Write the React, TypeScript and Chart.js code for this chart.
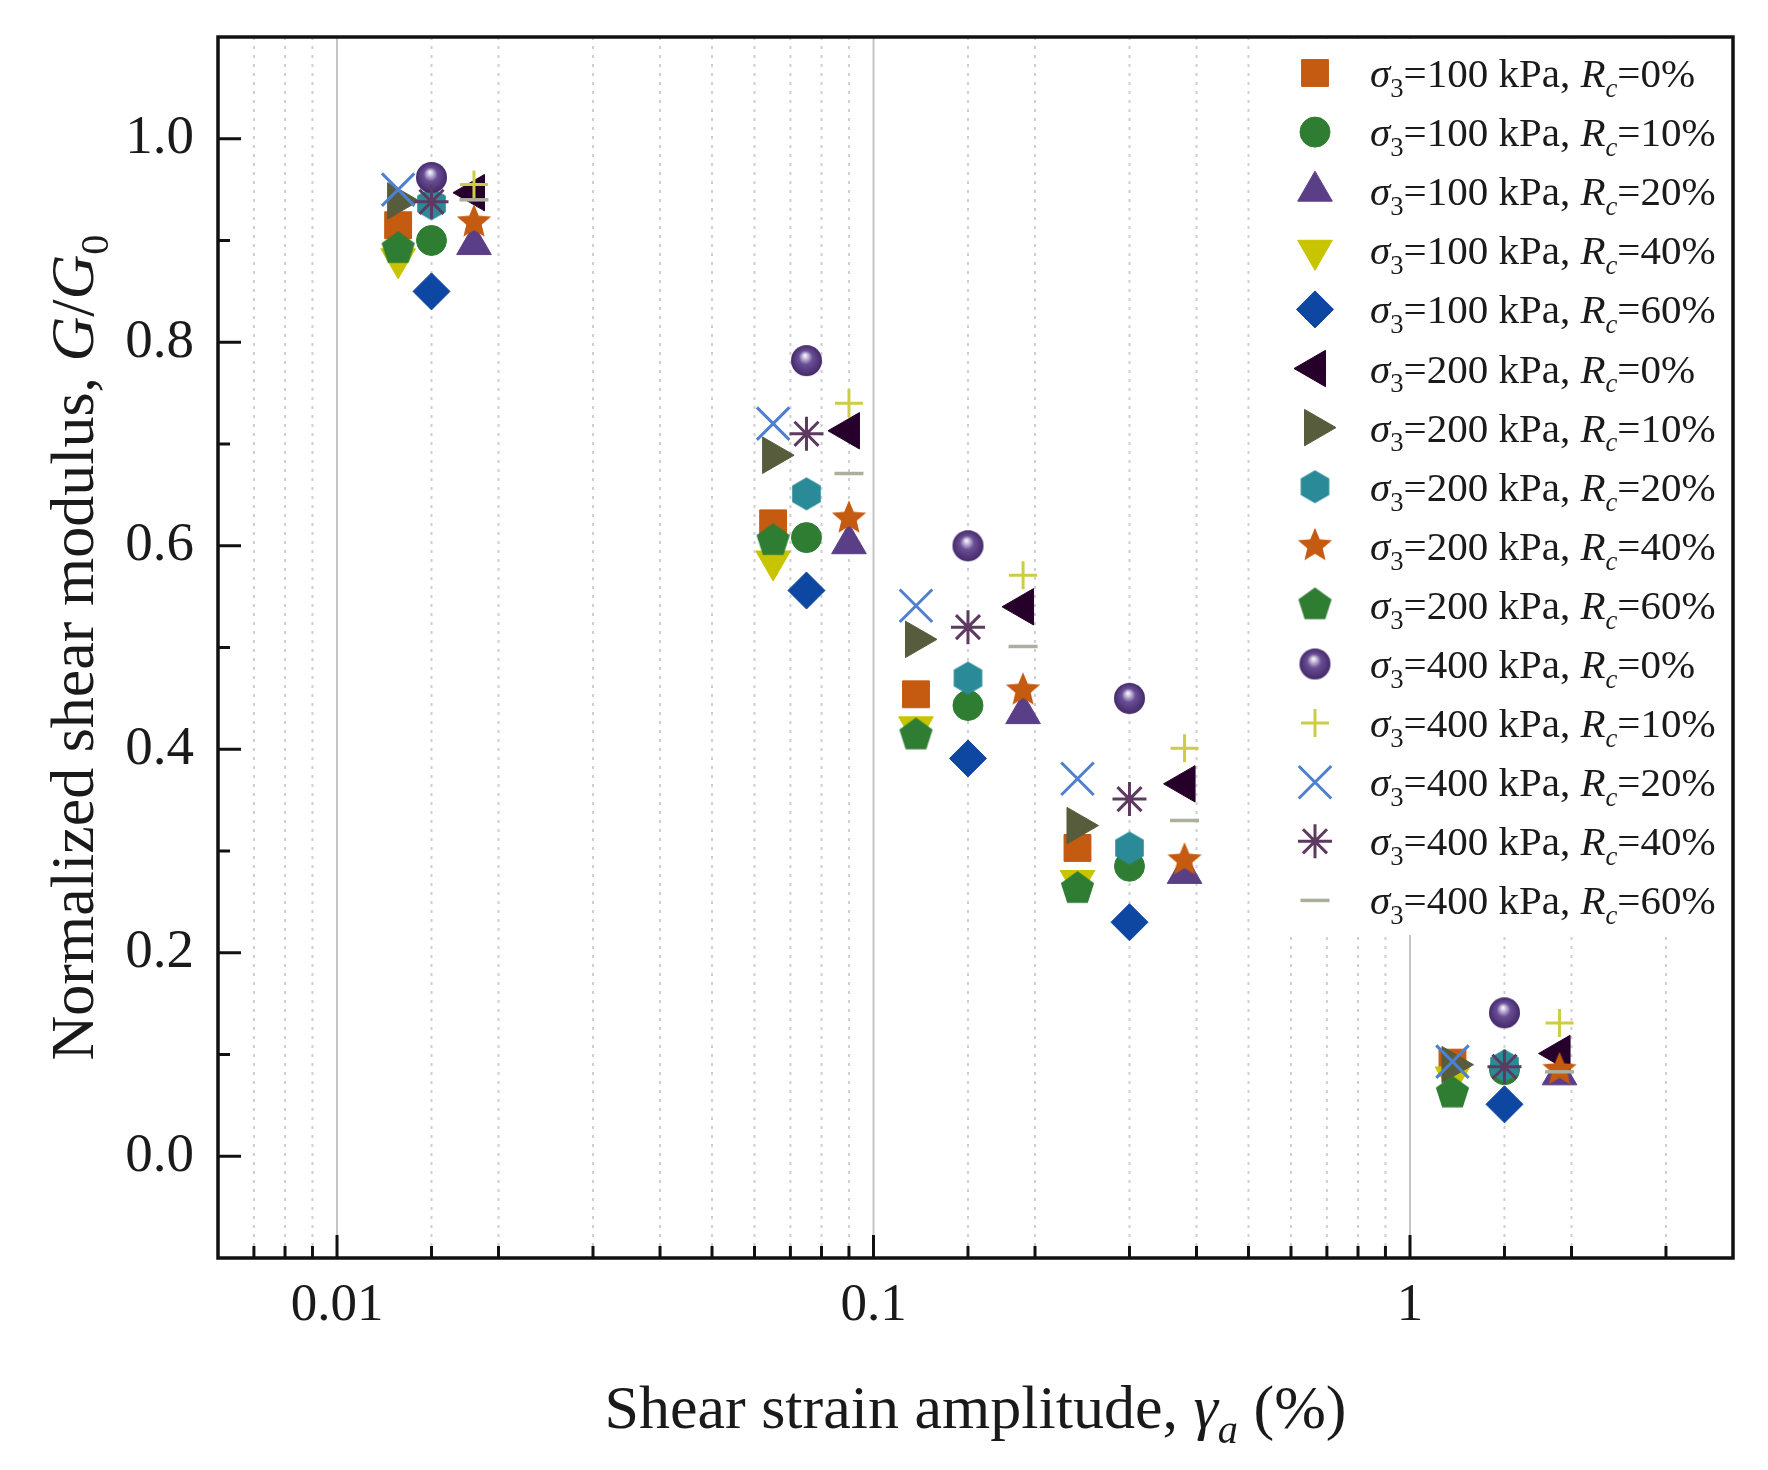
import React, { useEffect, useRef } from "react";
import { Chart, registerables } from "chart.js";
import { drawPoint } from "chart.js/helpers";

Chart.register(...registerables);

// shear strain amplitude (%) of the three marker columns in each cluster
const strainLow = [0.013, 0.065, 0.12, 0.24, 1.2];
const strainMid = [0.015, 0.075, 0.15, 0.3, 1.5];
const strainHigh = [0.018, 0.09, 0.19, 0.38, 1.9];

// normalized shear modulus G/G0
const g100rc0 = [0.915, 0.622, 0.454, 0.303, 0.092];
const g100rc10 = [0.9, 0.608, 0.443, 0.285, 0.085];
const g100rc20 = [0.896, 0.602, 0.435, 0.278, 0.08];
const g100rc40 = [0.882, 0.585, 0.422, 0.271, 0.078];
const g100rc60 = [0.85, 0.556, 0.391, 0.23, 0.051];
const g200rc0 = [0.947, 0.713, 0.54, 0.366, 0.101];
const g200rc10 = [0.939, 0.689, 0.508, 0.325, 0.09];
const g200rc20 = [0.936, 0.651, 0.47, 0.303, 0.089];
const g200rc40 = [0.918, 0.627, 0.458, 0.291, 0.085];
const g200rc60 = [0.892, 0.605, 0.414, 0.263, 0.062];
const g400rc0 = [0.962, 0.782, 0.6, 0.45, 0.141];
const g400rc10 = [0.955, 0.74, 0.571, 0.401, 0.131];
const g400rc20 = [0.95, 0.72, 0.541, 0.371, 0.093];
const g400rc40 = [0.938, 0.71, 0.52, 0.351, 0.088];
const g400rc60 = [0.94, 0.671, 0.501, 0.33, 0.083];

const pressures = [100, 200, 400];
const contents = [0, 10, 20, 40, 60];

const xSeries = [
  strainLow, strainMid, strainHigh, strainLow, strainMid,
  strainHigh, strainLow, strainMid, strainHigh, strainLow,
  strainMid, strainHigh, strainLow, strainMid, strainHigh,
];
const ySeries = [
  g100rc0, g100rc10, g100rc20, g100rc40, g100rc60,
  g200rc0, g200rc10, g200rc20, g200rc40, g200rc60,
  g400rc0, g400rc10, g400rc20, g400rc40, g400rc60,
];

const xMin = 0.006;
const xMax = 4;
const yMin = -0.1;
const yMax = 1.1;

const W = 1768;
const H = 1470;
const SERIF = '"Liberation Serif", "Times New Roman", serif';
const INK = "#1a1a1a";

type Marker = { kind: string; color: string; radius: number; rotation?: number; line?: number };

const markers: Marker[] = [
  { kind: "rect", color: "#c55a11", radius: 19 },
  { kind: "circle", color: "#2f7d32", radius: 15 },
  { kind: "triangle", color: "#5b3f86", radius: 20, rotation: 0 },
  { kind: "triangle", color: "#c8c400", radius: 20, rotation: 180 },
  { kind: "rectRot", color: "#0d47a1", radius: 18.5 },
  { kind: "triangle", color: "#26002a", radius: 21, rotation: 270 },
  { kind: "triangle", color: "#575c3c", radius: 21, rotation: 90 },
  { kind: "hexagon", color: "#2a8a98", radius: 16.5 },
  { kind: "star5", color: "#c55a11", radius: 18 },
  { kind: "pentagon", color: "#2f7d32", radius: 17.5 },
  { kind: "sphere", color: "#5b3f86", radius: 15.5 },
  { kind: "cross", color: "#cdcd45", radius: 14, line: 3 },
  { kind: "crossRot", color: "#4f80d0", radius: 23, line: 3 },
  { kind: "star", color: "#5e3a60", radius: 17, line: 3 },
  { kind: "line", color: "#aab09c", radius: 14.5, line: 3.5 },
];

function makeMarker(kind: string, color: string, r: number): HTMLCanvasElement {
  const size = Math.ceil(r * 2 + 4);
  const c = document.createElement("canvas");
  c.width = size;
  c.height = size;
  const g = c.getContext("2d")!;
  const cx = size / 2;
  const cy = size / 2;
  g.fillStyle = color;
  g.beginPath();
  if (kind === "sphere") {
    const grad = g.createRadialGradient(cx - r * 0.1, cy - r * 0.35, 0, cx, cy, r);
    grad.addColorStop(0, "#ffffff");
    grad.addColorStop(0.18, "#c9bedc");
    grad.addColorStop(0.45, "#6a4f96");
    grad.addColorStop(1, "#44296a");
    g.fillStyle = grad;
    g.arc(cx, cy, r, 0, Math.PI * 2);
  } else {
    const n = kind === "hexagon" ? 6 : kind === "pentagon" ? 5 : 10;
    for (let k = 0; k < n; k++) {
      const a = -Math.PI / 2 + (k * Math.PI * 2) / n;
      const rr = kind === "star5" && k % 2 === 1 ? r * 0.45 : r;
      const px = cx + rr * Math.cos(a);
      const py = cy + rr * Math.sin(a);
      if (k === 0) g.moveTo(px, py);
      else g.lineTo(px, py);
    }
    g.closePath();
  }
  g.fill();
  return c;
}

type Seg = { t: string; it?: boolean; sub?: boolean };

const fontOf = (size: number, it?: boolean) => `${it ? "italic " : ""}${size}px ${SERIF}`;

function richWidth(ctx: CanvasRenderingContext2D, segs: Seg[], size: number) {
  let w = 0;
  for (const s of segs) {
    ctx.font = fontOf(s.sub ? size * 0.65 : size, s.it);
    w += ctx.measureText(s.t).width;
  }
  return w;
}

function drawRich(ctx: CanvasRenderingContext2D, segs: Seg[], x: number, y: number, size: number, center: boolean) {
  let cx = center ? x - richWidth(ctx, segs, size) / 2 : x;
  ctx.textAlign = "left";
  ctx.textBaseline = "alphabetic";
  ctx.fillStyle = INK;
  for (const s of segs) {
    ctx.font = fontOf(s.sub ? size * 0.65 : size, s.it);
    ctx.fillText(s.t, cx, y + (s.sub ? size * 0.24 : 0));
    cx += ctx.measureText(s.t).width;
  }
}

const isDecade = (v: number) => {
  const l = Math.log10(v);
  return Math.abs(l - Math.round(l)) < 1e-6;
};

const frame = {
  id: "frame",
  beforeDatasetsDraw(chart: any) {
    const { ctx, chartArea: a, scales } = chart;
    const xs = scales.x;
    ctx.save();
    for (const t of xs.ticks) {
      const px = xs.getPixelForValue(t.value);
      if (px <= a.left + 2 || px >= a.right - 2) continue;
      const major = isDecade(t.value);
      ctx.beginPath();
      ctx.setLineDash(major ? [] : [3, 6]);
      ctx.strokeStyle = major ? "#c4c4c4" : "#cfcfcf";
      ctx.lineWidth = 2;
      ctx.moveTo(px, a.top);
      ctx.lineTo(px, a.bottom);
      ctx.stroke();
    }
    ctx.setLineDash([]);
    // legend backdrop
    ctx.fillStyle = "#ffffff";
    ctx.fillRect(a.right - 465, a.top + 2, 463, 896);
    ctx.restore();
  },
  afterDatasetsDraw(chart: any) {
    const { ctx, chartArea: a } = chart;
    ctx.save();
    chart.data.datasets.forEach((ds: any, i: number) => {
      const meta = chart.getDatasetMeta(i);
      const o = meta.data[0].options;
      const y = a.top + 36 + i * 59.1;
      ctx.fillStyle = o.backgroundColor;
      ctx.strokeStyle = o.borderColor;
      ctx.lineWidth = o.borderWidth;
      drawPoint(ctx, { pointStyle: o.pointStyle, rotation: o.rotation, radius: o.radius, borderWidth: o.borderWidth }, a.right - 418, y);
      const p = pressures[Math.floor(i / 5)];
      const rc = contents[i % 5];
      drawRich(
        ctx,
        [
          { t: "σ", it: true },
          { t: "3", sub: true },
          { t: `=${p} kPa, ` },
          { t: "R", it: true },
          { t: "c", it: true, sub: true },
          { t: `=${rc}%` },
        ],
        a.right - 363,
        y + 14,
        41,
        false
      );
    });
    ctx.restore();
  },
  afterDraw(chart: any) {
    const { ctx, chartArea: a, scales } = chart;
    ctx.save();
    ctx.strokeStyle = "#111";
    ctx.lineWidth = 3;
    ctx.lineCap = "butt";
    // inward ticks
    for (const t of scales.x.ticks) {
      const px = scales.x.getPixelForValue(t.value);
      if (px <= a.left + 2 || px >= a.right - 2) continue;
      const len = isDecade(t.value) ? 23 : 12;
      ctx.beginPath();
      ctx.moveTo(px, a.bottom);
      ctx.lineTo(px, a.bottom - len);
      ctx.stroke();
    }
    for (const t of scales.y.ticks) {
      const py = scales.y.getPixelForValue(t.value);
      if (py <= a.top + 2 || py >= a.bottom - 2) continue;
      const n = Math.round(t.value * 10);
      const len = n % 2 === 0 ? 23 : 12;
      ctx.beginPath();
      ctx.moveTo(a.left, py);
      ctx.lineTo(a.left + len, py);
      ctx.stroke();
    }
    // plot frame
    ctx.lineWidth = 3.5;
    ctx.strokeRect(a.left, a.top, a.right - a.left, a.bottom - a.top);
    // axis titles
    drawRich(
      ctx,
      [{ t: "Shear strain amplitude, " }, { t: "γ", it: true }, { t: "a", it: true, sub: true }, { t: " (%)" }],
      (a.left + a.right) / 2,
      a.bottom + 170,
      62,
      true
    );
    ctx.translate(a.left - 125, (a.top + a.bottom) / 2);
    ctx.rotate(-Math.PI / 2);
    drawRich(
      ctx,
      [{ t: "Normalized shear modulus, " }, { t: "G", it: true }, { t: "/" }, { t: "G", it: true }, { t: "0", sub: true }],
      0,
      0,
      62,
      true
    );
    ctx.restore();
  },
};

export default function App() {
  const canvasRef = useRef<HTMLCanvasElement | null>(null);

  useEffect(() => {
    document.body.style.margin = "0";
    if (!canvasRef.current) return;

    const datasets = ySeries.map((ys, i) => {
      const m = markers[i];
      const custom = ["hexagon", "pentagon", "star5", "sphere"].includes(m.kind);
      const lineOnly = ["cross", "crossRot", "star", "line"].includes(m.kind);
      return {
        label: `σ3=${pressures[Math.floor(i / 5)]} kPa, Rc=${contents[i % 5]}%`,
        data: xSeries[i].map((x, k) => ({ x, y: ys[k] })),
        showLine: false,
        order: ySeries.length - i,
        pointStyle: custom ? makeMarker(m.kind, m.color, m.radius) : m.kind,
        pointRotation: m.rotation ?? 0,
        pointRadius: m.radius,
        pointBackgroundColor: m.color,
        pointBorderColor: m.color,
        pointBorderWidth: lineOnly ? m.line : 1,
      };
    });

    const chart = new Chart(canvasRef.current, {
      type: "scatter",
      data: { datasets },
      plugins: [frame],
      options: {
        animation: false,
        responsive: false,
        devicePixelRatio: 1,
        events: [],
        layout: { padding: { left: 0, top: 37, right: 35, bottom: 0 } },
        plugins: { legend: { display: false }, tooltip: { enabled: false } },
        scales: {
          x: {
            type: "logarithmic",
            min: xMin,
            max: xMax,
            grid: { display: false, drawTicks: false },
            border: { display: false },
            ticks: {
              autoSkip: false,
              maxRotation: 0,
              padding: 16,
              color: INK,
              font: { family: SERIF, size: 53 },
              callback: (v: any) => {
                const val = Number(v);
                if (!isDecade(val)) return "";
                const e = Math.round(Math.log10(val));
                return e < 0 ? Math.pow(10, e).toFixed(-e) : String(Math.pow(10, e));
              },
            },
            afterFit: (s: any) => {
              s.height = H - 1258;
              s.paddingLeft = 0;
              s.paddingRight = 0;
            },
          },
          y: {
            min: yMin,
            max: yMax,
            grid: { display: false, drawTicks: false },
            border: { display: false },
            ticks: {
              stepSize: 0.1,
              autoSkip: false,
              padding: 24,
              color: INK,
              font: { family: SERIF, size: 55 },
              callback: (v: any) => {
                const n = Math.round(Number(v) * 10);
                return n >= 0 && n <= 10 && n % 2 === 0 ? (n / 10).toFixed(1) : "";
              },
            },
            afterFit: (s: any) => {
              s.width = 218;
              s.paddingTop = 0;
              s.paddingBottom = 0;
            },
          },
        },
      } as any,
    });

    return () => chart.destroy();
  }, []);

  return (
    <div style={{ width: W, height: H, background: "#fff" }}>
      <canvas ref={canvasRef} width={W} height={H} />
    </div>
  );
}
